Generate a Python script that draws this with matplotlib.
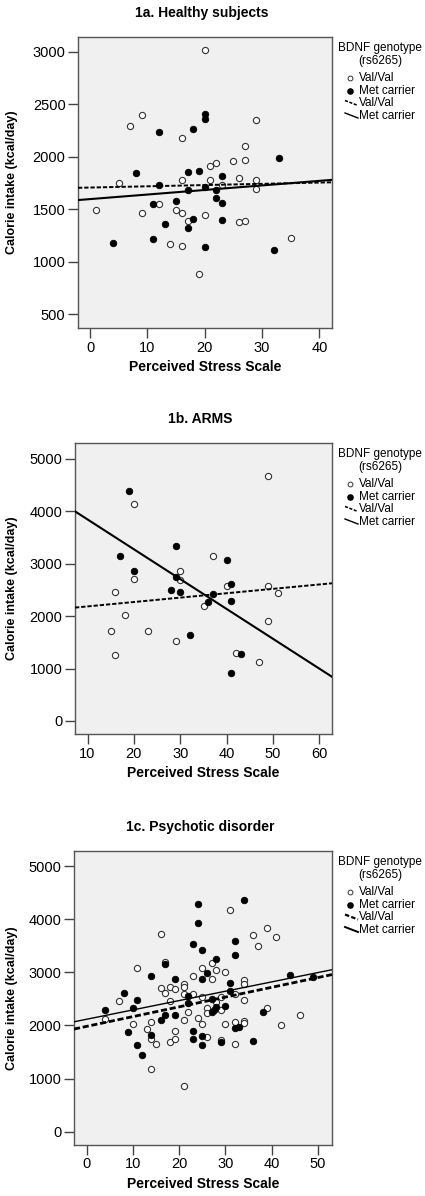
import numpy as np
import matplotlib
matplotlib.use('Agg')
import matplotlib.pyplot as plt

plt.rcParams['font.family'] = ['Liberation Sans', 'DejaVu Sans']

# ---- data ----
# 1a. Healthy subjects
hs_val_x = [20, 9, 7, 29, 16, 27, 25, 27, 21, 22, 26, 21, 16, 29, 5, 23, 29,
            1, 12, 9, 15, 16, 20, 17, 26, 27, 14, 16, 35, 19]
hs_val_y = [3020, 2400, 2290, 2350, 2175, 2100, 1960, 1965, 1910, 1940, 1800, 1780, 1775, 1780, 1750, 1730, 1695,
            1495, 1550, 1460, 1495, 1460, 1450, 1387, 1375, 1385, 1170, 1150, 1230, 880]
hs_met_x = [20, 20, 12, 18, 33, 8, 17, 19, 23, 12, 20, 17, 22, 11, 15, 22, 23,
            13, 18, 17, 23, 4, 11, 20, 32]
hs_met_y = [2410, 2358, 2240, 2260, 1990, 1845, 1855, 1865, 1815, 1735, 1710, 1680, 1685, 1550, 1580, 1605, 1560,
            1360, 1405, 1325, 1400, 1180, 1215, 1145, 1110]
hs_val_fit = (1707, 1.18)   # intercept, slope
hs_met_fit = (1597, 4.34)

# 1b. ARMS
arms_val_x = [49, 20, 37, 30, 30, 20, 40, 49, 51, 16, 35, 18, 15, 23, 49, 29, 16, 42, 47]
arms_val_y = [4680, 4150, 3155, 2857, 2691, 2704, 2582, 2576, 2443, 2462, 2195, 2023, 1724, 1718, 1908, 1520, 1253, 1298, 1132]
arms_met_x = [19, 29, 17, 40, 20, 29, 41, 28, 30, 37, 36, 41, 32, 43, 41]
arms_met_y = [4389, 3346, 3155, 3073, 2857, 2754, 2617, 2500, 2462, 2424, 2271, 2284, 1648, 1273, 922]
arms_val_fit = (2102, 8.38)
arms_met_fit = (4416, -57.0)

# 1c. Psychotic disorder
psy_val_x = [31, 16, 39, 36, 41, 37, 17, 11, 25, 27, 28, 30, 23, 27, 21, 34, 34, 16, 18, 19,
             21, 7, 4, 18, 21, 22, 23, 25, 26, 26, 28, 29, 29, 32, 34, 39, 46, 42, 10, 14,
             13, 14, 15, 18, 19, 19, 21, 24, 25, 26, 29, 30, 32, 34, 34, 32, 14, 21, 17]
psy_val_y = [4180, 3730, 3840, 3700, 3660, 3490, 3200, 3080, 3080, 3180, 3040, 3000, 2940, 2870, 2790, 2850, 2780, 2700, 2716, 2690,
             2716, 2460, 2115, 2460, 2600, 2250, 2590, 2530, 2320, 2227, 2445, 2290, 2540, 2590, 2480, 2320, 2200, 2000, 2020, 2060,
             1940, 1750, 1655, 1695, 1750, 1900, 2107, 2133, 2020, 1786, 1725, 2027, 2070, 2090, 2040, 1645, 1180, 860, 2615]
psy_met_x = [24, 34, 24, 23, 25, 32, 32, 28, 17, 14, 19, 26, 25, 31, 44, 49, 4, 8, 11, 10, 22, 22,
             27, 31, 28, 27, 27.5, 30, 38, 17, 16, 19, 9, 14, 23, 25, 23, 25, 29, 32, 33, 36, 11, 12]
psy_met_y = [4280, 4370, 3930, 3540, 3420, 3590, 3330, 3250, 3160, 2940, 2870, 2990, 2873, 2800, 2950, 2920, 2290, 2610, 2480, 2320, 2550, 2420,
             2500, 2650, 2340, 2246, 2290, 2370, 2250, 2200, 2110, 2190, 1870, 1830, 1905, 1800, 1740, 1630, 1690, 1945, 1977, 1700, 1630, 1450]
psy_val_fit = (1983, 18.4)
psy_met_fit = (2117, 17.6)

W, H = 425, 1196
fig = plt.figure(figsize=(W / 100, H / 100), dpi=100)
fig.patch.set_facecolor('white')


def box(left, top, right, bottom):
    return [left / W, 1 - bottom / H, (right - left) / W, (bottom - top) / H]


panels = [
    dict(title='1a. Healthy subjects', rect=(78, 37, 332, 328), xlim=(-2.1, 42.2), ylim=(370, 3140),
         xticks=np.arange(0, 41, 10), yticks=np.arange(500, 3001, 500),
         vx=hs_val_x, vy=hs_val_y, mx=hs_met_x, my=hs_met_y, vfit=hs_val_fit, mfit=hs_met_fit,
         dash_lw=1.4, solid_lw=1.5),
    dict(title='1b. ARMS', rect=(75, 443, 332, 734), xlim=(7.3, 62.7), ylim=(-250, 5305),
         xticks=np.arange(10, 61, 10), yticks=np.arange(0, 5001, 1000),
         vx=arms_val_x, vy=arms_val_y, mx=arms_met_x, my=arms_met_y, vfit=arms_val_fit, mfit=arms_met_fit,
         dash_lw=1.4, solid_lw=1.5),
    dict(title='1c. Psychotic disorder', rect=(74, 851, 332, 1145), xlim=(-2.7, 53.0), ylim=(-250, 5285),
         xticks=np.arange(0, 51, 10), yticks=np.arange(0, 5001, 1000),
         vx=psy_val_x, vy=psy_val_y, mx=psy_met_x, my=psy_met_y, vfit=psy_val_fit, mfit=psy_met_fit,
         dash_lw=2.0, solid_lw=1.0),
]

# overlay in pixel coordinates for titles and legends
over = fig.add_axes([0, 0, 1, 1], zorder=5)
over.set_xlim(0, W)
over.set_ylim(H, 0)
over.axis('off')

for p in panels:
    left, top, right, bottom = p['rect']
    ax = fig.add_axes(box(left, top, right, bottom))
    ax.set_facecolor('#f0f0f0')
    ax.scatter(p['vx'], p['vy'], s=20, facecolors='white', edgecolors='#333333', linewidths=0.8, zorder=3)
    ax.scatter(p['mx'], p['my'], s=22, facecolors='black', edgecolors='black', linewidths=0.6, zorder=3)
    a, b = p['vfit']
    ax.axline((0, a), slope=b, color='black', lw=p['dash_lw'], ls=(0, (2.2, 1.0)), zorder=4)
    a, b = p['mfit']
    ax.axline((0, a), slope=b, color='black', lw=p['solid_lw'], zorder=4)
    ax.set_xlim(p['xlim'])
    ax.set_ylim(p['ylim'])
    ax.set_xticks(p['xticks'])
    ax.set_yticks(p['yticks'])
    ax.tick_params(direction='out', length=7, width=1, color='#444444', labelsize=10.5, pad=2)
    for s in ax.spines.values():
        s.set_color('#555555')
        s.set_linewidth(1)
    ax.set_xlabel('Perceived Stress Scale', fontsize=10, fontweight='bold', labelpad=4)
    ax.set_ylabel('Calorie intake (kcal/day)', fontsize=9, fontweight='bold', labelpad=3)
    ax.yaxis.set_label_coords(-(left - 18) / (right - left), 0.5)

    # title
    over.text((left + right) / 2 - 3, top - 24, p['title'], ha='center', va='center',
              fontsize=10, fontweight='bold')

    # legend
    cx = 380
    over.text(cx, top + 11.5, 'BDNF genotype', ha='center', va='center', fontsize=8.5)
    over.text(cx, top + 24, '(rs6265)', ha='center', va='center', fontsize=8.5)
    over.scatter([350], [top + 41], s=12, facecolors='white', edgecolors='#333333', linewidths=0.7)
    over.text(359, top + 41, 'Val/Val', ha='left', va='center', fontsize=8.5)
    over.scatter([350.5], [top + 53.5], s=14, facecolors='black', edgecolors='black')
    over.text(359, top + 53.5, 'Met carrier', ha='left', va='center', fontsize=8.5)
    yl = top + 66.5
    over.plot([345, 358], [yl - 3, yl + 2], color='black', lw=p['dash_lw'] * 0.8, ls=(0, (2.0, 1.0)))
    over.text(359, yl, 'Val/Val', ha='left', va='center', fontsize=8.5)
    yl = top + 79
    over.plot([345, 358], [yl - 3, yl + 2], color='black', lw=1.4 if p['solid_lw'] < 1.2 else 1.0)
    over.text(359, yl, 'Met carrier', ha='left', va='center', fontsize=8.5)

fig.savefig('out.png', dpi=100)
